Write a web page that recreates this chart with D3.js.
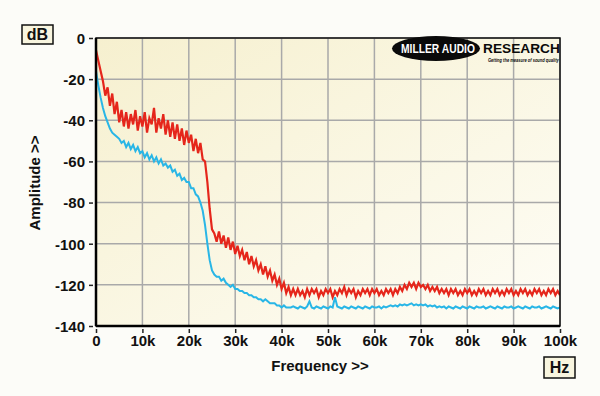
<!DOCTYPE html>
<html>
<head>
<meta charset="utf-8">
<script src="https://cdn.jsdelivr.net/npm/d3@7"></script>
<style>
  html, body { margin: 0; padding: 0; background: #fcfcf8; }
  svg { display: block; font-family: "Liberation Sans", Arial, sans-serif; }
  .tick text { font-weight: bold; font-size: 15px; fill: #111; }
  .lbl { font-weight: bold; font-size: 15px; fill: #111; }
</style>
</head>
<body>
<svg id="chart" width="600" height="396"></svg>
<script>
// sampling grid in kHz (0.5k steps)
const FREQ = d3.range(0, 100.01, 0.5);

// red trace, dB
const RED = [
  -6, -11, -16, -21, -28, -24, -33, -27, -37, -31,
  -41, -35, -43, -36, -44, -37, -42, -35, -45, -38,
  -43, -36, -46, -39, -42, -34, -46, -39, -44, -37,
  -47, -40, -48, -41, -49, -42, -50, -44, -52, -45,
  -51, -47, -55, -49, -56, -51, -59, -60, -70, -83,
  -93, -95, -99, -94, -100, -96, -102, -97, -103, -99,
  -105, -101, -106, -103, -108, -104, -110, -106, -111, -108,
  -113, -110, -115, -111, -116, -113, -118, -115, -120, -117,
  -122, -119, -124, -121, -125, -122, -125, -122, -125, -123,
  -126, -122, -125, -122, -124, -122, -126, -123, -125, -122,
  -124, -122, -126, -123, -125, -122, -124, -121, -125, -122,
  -124, -122, -126, -123, -125, -122, -124, -122, -125, -122,
  -124, -122, -125, -123, -125, -122, -124, -122, -125, -122,
  -124, -121, -123, -120, -122, -119, -121, -119, -122, -119,
  -121, -120, -122, -120, -123, -121, -123, -121, -124, -122,
  -124, -122, -125, -122, -124, -122, -125, -123, -125, -122,
  -124, -122, -125, -123, -125, -122, -124, -122, -125, -123,
  -125, -122, -124, -122, -125, -123, -125, -122, -124, -122,
  -125, -123, -125, -122, -124, -122, -125, -123, -125, -122,
  -124, -122, -125, -123, -125, -122, -124, -122, -125, -123,
  -125
];

// blue trace, dB
const BLUE = [
  -16, -23, -29, -34, -38, -41, -44, -46, -47, -48,
  -49, -51, -50, -53, -51, -54, -52, -55, -53, -56,
  -55, -58, -56, -59, -57, -60, -58, -61, -59, -62,
  -61, -63, -62, -65, -64, -67, -66, -69, -68, -70,
  -70, -73, -73, -76, -77, -80, -84, -91, -100, -108,
  -113, -115, -116, -116, -118, -117, -119, -120, -121, -120,
  -122, -122, -123, -123, -124, -124, -125, -125, -126, -126,
  -127, -127, -128, -127, -128, -129, -129, -129, -130, -130,
  -131, -130, -131, -131, -131, -130.5, -131, -131.5, -130.5, -131,
  -131.5, -130.5, -128, -131, -131.5, -130.5, -131, -131.5, -130.5, -131,
  -131.5, -130.5, -131, -126, -130.5, -131, -131.5, -130.5, -131, -131.5,
  -130.5, -131, -131.5, -130.5, -131, -131.5, -130.5, -131, -131.5, -130.5,
  -131, -131, -130.5, -131.5, -130.5, -131, -130.5, -130, -130.5, -130,
  -130.5, -129.5, -130, -129.5, -130, -129.5, -129, -130, -129.5, -130,
  -129.5, -130, -129.5, -130.5, -130, -130.5, -130, -131, -130.5, -131,
  -130.5, -131.5, -130.5, -131, -131.5, -130.5, -131, -131.5, -130.5, -131,
  -131.5, -130.5, -131, -131.5, -130.5, -131, -131, -130.5, -131.5, -131,
  -130.5, -131, -131.5, -130.5, -131, -131.5, -130.5, -131, -131, -130.5,
  -131.5, -131, -130.5, -131, -131.5, -130.5, -131, -131.5, -130.5, -131,
  -131, -130.5, -131.5, -131, -130.5, -131, -131.5, -130.5, -131, -131.5,
  -131
];

const X_TICKS = [0, 10, 20, 30, 40, 50, 60, 70, 80, 90, 100];
const Y_TICKS = [0, -20, -40, -60, -80, -100, -120, -140];

const margin = { top: 38, right: 40, bottom: 70, left: 96 };
const W = 600;
const H = 396;
const innerW = W - margin.left - margin.right;
const innerH = H - margin.top - margin.bottom;

const x = d3.scaleLinear().domain([0, 100]).range([0, innerW]);
const y = d3.scaleLinear().domain([-140, 0]).range([innerH, 0]);

const svg = d3.select('#chart');

// plot background
const defs = svg.append('defs');
const grad = defs.append('linearGradient')
  .attr('id', 'bg')
  .attr('x1', '0%').attr('y1', '0%')
  .attr('x2', '100%').attr('y2', '100%');
grad.append('stop').attr('offset', '0%').attr('stop-color', '#f6f0cf');
grad.append('stop').attr('offset', '100%').attr('stop-color', '#fefdf6');

defs.append('clipPath').attr('id', 'clip')
  .append('rect').attr('width', innerW).attr('height', innerH);

const g = svg.append('g').attr('transform', `translate(${margin.left},${margin.top})`);

g.append('rect')
  .attr('width', innerW)
  .attr('height', innerH)
  .attr('fill', 'url(#bg)');

// grid
g.append('g').selectAll('line.gx').data(X_TICKS).join('line')
  .attr('x1', d => x(d)).attr('x2', d => x(d))
  .attr('y1', 0).attr('y2', innerH)
  .attr('stroke', '#a9a9a9').attr('stroke-width', 1.5);
g.append('g').selectAll('line.gy').data(Y_TICKS).join('line')
  .attr('y1', d => y(d)).attr('y2', d => y(d))
  .attr('x1', 0).attr('x2', innerW)
  .attr('stroke', '#a9a9a9').attr('stroke-width', 1.5);

// traces
const line = d3.line()
  .x((d, i) => x(FREQ[i]))
  .y(d => y(d));

const traces = g.append('g').attr('clip-path', 'url(#clip)');
traces.append('path').datum(BLUE)
  .attr('d', line)
  .attr('fill', 'none')
  .attr('stroke', '#29b6e6')
  .attr('stroke-width', 2)
  .attr('stroke-linejoin', 'miter');
traces.append('path').datum(RED)
  .attr('d', line)
  .attr('fill', 'none')
  .attr('stroke', '#e5261b')
  .attr('stroke-width', 2.2)
  .attr('stroke-linejoin', 'miter');

// frame
g.append('rect')
  .attr('width', innerW).attr('height', innerH)
  .attr('fill', 'none').attr('stroke', '#111').attr('stroke-width', 1.5);
g.append('line').attr('x1', 0).attr('x2', 0).attr('y1', 0).attr('y2', innerH)
  .attr('stroke', '#000').attr('stroke-width', 2.5);
g.append('line').attr('x1', 0).attr('x2', innerW).attr('y1', innerH).attr('y2', innerH)
  .attr('stroke', '#000').attr('stroke-width', 2.5);

// axes
const axX = g.append('g')
  .attr('transform', `translate(0,${innerH})`)
  .call(d3.axisBottom(x).tickValues(X_TICKS)
    .tickFormat(d => (d === 0 ? '0' : d + 'k'))
    .tickSize(7).tickPadding(2));
axX.select('.domain').remove();
axX.selectAll('.tick line').attr('y1', 3).attr('stroke', '#222').attr('stroke-width', 1.5);

const axY = g.append('g')
  .call(d3.axisLeft(y).tickValues(Y_TICKS)
    .tickFormat(d => (d === 0 ? '0' : '-' + Math.abs(d)))
    .tickSize(7).tickPadding(4));
axY.select('.domain').remove();
axY.selectAll('.tick line').attr('x1', -3).attr('stroke', '#222').attr('stroke-width', 1.5);
axY.selectAll('.tick text').attr('dy', '0.36em');

// axis titles
svg.append('text').attr('class', 'lbl')
  .attr('x', 320).attr('y', 371)
  .attr('text-anchor', 'middle')
  .text('Frequency >>');
svg.append('text').attr('class', 'lbl')
  .attr('transform', 'translate(40,183) rotate(-90)')
  .attr('text-anchor', 'middle')
  .text('Amplitude >>');

// unit boxes
function unitBox(x0, y0, w, h, label) {
  svg.append('rect')
    .attr('x', x0).attr('y', y0).attr('width', w).attr('height', h)
    .attr('fill', '#f8f5df').attr('stroke', '#111').attr('stroke-width', 1.5);
  svg.append('text').attr('class', 'lbl')
    .attr('x', x0 + w / 2).attr('y', y0 + h / 2 + 5.5)
    .attr('text-anchor', 'middle')
    .style('font-size', '16px')
    .text(label);
}
unitBox(22, 25, 31, 19, 'dB');
unitBox(544, 357, 31, 21, 'Hz');

// logo - text squeezed/stretched to width with a scale transform
function logoText(str, x0, y0, width, size, fill, italic) {
  const t = logo.append('text')
    .attr('x', 0).attr('y', 0)
    .style('font-family', '"Liberation Sans", Arial, sans-serif')
    .style('font-weight', 'bold')
    .style('font-style', italic ? 'italic' : 'normal')
    .style('font-size', size + 'px')
    .attr('fill', fill)
    .text(str);
  const natural = t.node().getComputedTextLength();
  t.attr('transform', `translate(${x0},${y0}) scale(${width / natural},1)`);
}

const logo = svg.append('g');
logo.append('ellipse')
  .attr('cx', 436).attr('cy', 48.5).attr('rx', 44).attr('ry', 12.5)
  .attr('fill', '#0a0a0a');
logoText('MILLER AUDIO', 401, 53, 74, 13, '#fff', false);
logoText('RESEARCH', 483, 52.5, 77, 12.5, '#0a0a0a', false);
logoText('Getting the measure of sound quality', 488, 62, 71, 5.5, '#0a0a0a', true);
</script>
</body>
</html>
